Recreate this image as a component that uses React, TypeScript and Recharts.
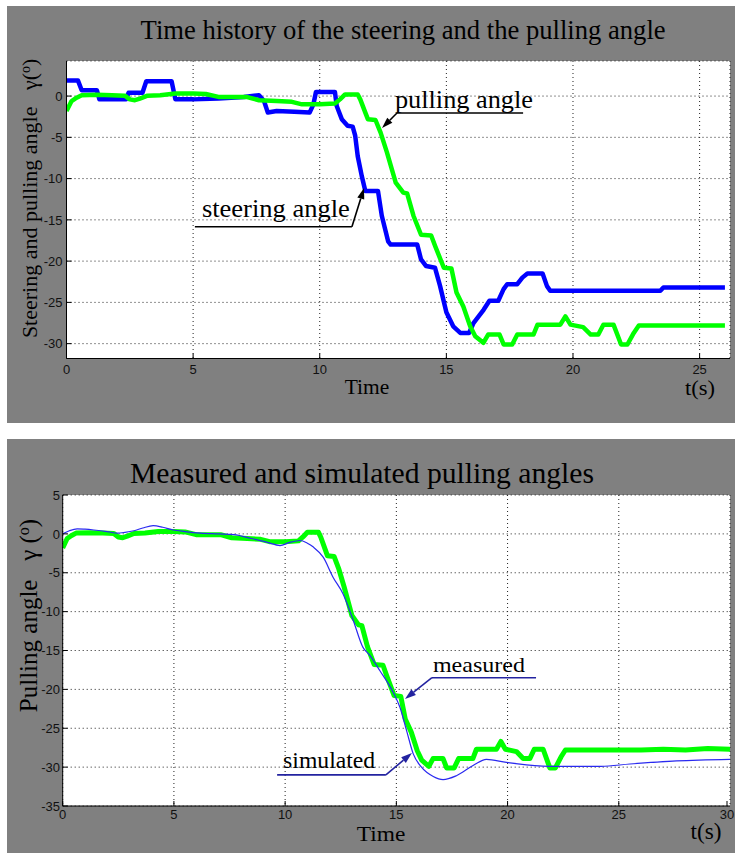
import React from 'react';
import { LineChart, Line, XAxis, YAxis, CartesianGrid, ReferenceLine } from 'recharts';

type Pt = [number, number];

// time (s), angle (deg)
const steeringAngle: Pt[] = [
  [0, 1.9], [0.45, 1.9], [0.6, 0.7], [1.2, 0.7], [1.3, -0.4], [2.35, -0.4], [2.45, 0.4], [3.0, 0.4],
  [3.15, 1.8], [4.15, 1.8], [4.3, -0.4], [5.0, -0.4], [6.0, -0.3], [7.0, -0.1], [7.6, 0.1], [7.8, -0.6],
  [7.95, -2.0], [8.3, -1.8], [9.0, -1.9], [9.6, -2.0], [9.75, -1.0], [9.85, 0.5], [10.6, 0.5], [10.67, -1.2],
  [10.87, -2.8], [11.1, -3.6], [11.3, -3.7], [11.4, -4.8], [11.5, -7.3], [11.66, -9.7], [11.8, -11.5],
  [12.3, -11.5], [12.45, -14.5], [12.7, -17.6], [12.8, -18.0], [13.85, -18.0], [14.0, -19.8], [14.2, -20.6],
  [14.55, -20.8], [14.75, -23.0], [15.0, -26.2], [15.27, -27.9], [15.55, -28.7], [15.9, -28.7], [16.07, -27.5],
  [16.47, -25.9], [16.7, -24.8], [17.05, -24.8], [17.26, -23.4], [17.4, -22.8], [17.8, -22.8], [18.0, -22.0],
  [18.2, -21.5], [18.8, -21.5], [18.97, -23.0], [19.1, -23.6], [23.45, -23.6], [23.57, -23.2], [26.0, -23.2],
];

const pullingAngle: Pt[] = [
  [0, -1.8], [0.1, -1.2], [0.2, -0.6], [0.4, -0.2], [0.6, 0.1], [1.2, 0.15], [1.8, 0.1], [2.3, 0.05],
  [2.5, -0.4], [2.7, -0.5], [2.9, -0.3], [3.2, 0.05], [3.7, 0.1], [4.3, 0.3], [5.0, 0.3], [5.5, 0.25],
  [6.0, -0.1], [6.5, -0.1], [7.1, -0.1], [7.6, -0.5], [8.3, -0.6], [8.9, -0.7], [9.3, -1.0], [10.0, -1.0],
  [10.6, -0.9], [10.8, -0.4], [11.0, 0.2], [11.5, 0.2], [11.6, -0.4], [11.8, -2.0], [11.9, -2.8], [12.2, -2.9],
  [12.4, -4.4], [12.65, -6.8], [13.0, -10.5], [13.3, -11.7], [13.45, -11.8], [13.7, -14.5], [14.0, -16.8],
  [14.4, -16.9], [14.56, -18.2], [14.9, -20.8], [15.2, -20.9], [15.4, -23.8], [15.67, -25.5], [15.94, -27.9],
  [16.14, -29.1], [16.46, -29.9], [16.65, -28.9], [17.1, -28.9], [17.26, -30.1], [17.6, -30.1], [17.8, -28.9],
  [18.44, -28.9], [18.6, -27.7], [19.5, -27.7], [19.7, -26.7], [19.9, -27.7], [20.4, -28.0], [20.7, -28.9],
  [21.0, -28.9], [21.2, -27.7], [21.6, -27.7], [21.9, -30.1], [22.15, -30.1], [22.4, -28.7], [22.6, -27.8],
  [26.0, -27.8],
];

// lower plot runs to 30 s
const measuredTail: Pt[] = [[27.0, -27.7], [28.0, -27.8], [29.0, -27.6], [30.0, -27.7]];

const simulatedAngle: Pt[] = [
  [0, 0], [0.3, 0.4], [0.65, 0.65], [1.0, 0.6], [1.4, 0.5], [2.0, 0.3], [2.45, 0.1], [2.8, 0.2], [3.2, 0.4],
  [3.6, 0.75], [4.07, 1.05], [4.5, 0.85], [4.97, 0.5], [5.5, 0.3], [6.2, 0.1], [7.0, 0.0], [7.7, -0.1],
  [8.5, -0.6], [9.2, -1.1], [9.77, -1.5], [10.2, -1.1], [10.67, -0.85], [11.0, -1.2], [11.27, -1.7],
  [11.71, -3.0], [12.16, -5.6], [12.6, -7.7], [13.06, -11.1], [13.5, -14.6], [13.8, -15.6], [14.26, -17.6],
  [14.86, -20.4], [15.16, -22.3], [15.46, -25.3], [15.76, -28.3], [16.13, -30.0], [16.66, -31.2], [17.1, -31.6],
  [17.7, -31.1], [18.45, -29.8], [19.05, -29.0], [19.95, -29.4], [20.85, -29.7], [22.2, -29.9], [24.2, -29.9],
  [25.5, -29.6], [27.6, -29.2], [30.0, -29.0],
];

const topTimeTicks = [0, 5, 10, 15, 20, 25];
const bottomTimeTicks = [0, 5, 10, 15, 20, 25, 30];
const topAngleTicks = [-30, -25, -20, -15, -10, -5, 0];
const bottomAngleTicks = [-35, -30, -25, -20, -15, -10, -5, 0, 5];

const toRows = (pts: Pt[]) => pts.map(([t, v]) => ({ t, v }));

const SANS = '"Liberation Sans", Arial, sans-serif';
const SERIF = '"Liberation Serif", "Times New Roman", serif';
const GRAY = '#808080';
const BLUE = '#0000ff';
const GREEN = '#00ff00';
const NAVY = '#2323a0';

// callouts in data coordinates: underline segment, arrow segment, text offset from underline start
const topCallouts = [
  { text: 'pulling angle', under: [[13.05, -2.05], [18.03, -2.05]], arrow: [[13.05, -2.05], [12.46, -3.87]], dx: -2, dy: -5, size: 25, len: 138, color: '#000' },
  { text: 'steering angle', under: [[5.07, -15.83], [11.27, -15.83]], arrow: [[11.27, -15.83], [11.75, -11.14]], dx: 7, dy: -10, size: 26, len: 148, color: '#000' },
];
const bottomCallouts = [
  { text: 'measured', under: [[16.6, -18.5], [21.28, -18.5]], arrow: [[16.6, -18.5], [15.39, -21.24]], dx: 1, dy: -6, size: 22, len: 92, color: NAVY },
  { text: 'simulated', under: [[9.64, -31.0], [14.53, -31.0]], arrow: [[14.53, -31.0], [15.7, -28.19]], dx: 6, dy: -7, size: 23, len: 92, color: NAVY },
];

function BottomTick(props: any) {
  const { x, y, payload, gap } = props;
  return (
    <g>
      <line x1={x} x2={x} y1={y - gap} y2={y - gap - 5} stroke="#000" />
      <text x={x} y={y} dy="0.72em" textAnchor="middle" fontSize={13} fontFamily={SANS} fill="#111">
        {payload.value}
      </text>
    </g>
  );
}

function LeftTick(props: any) {
  const { x, y, payload, gap } = props;
  return (
    <g>
      <line x1={x + gap} x2={x + gap + 5} y1={y} y2={y} stroke="#000" />
      <text x={x} y={y} dy="0.36em" textAnchor="end" fontSize={13} fontFamily={SANS} fill="#111">
        {payload.value}
      </text>
    </g>
  );
}

const TopTick = (props: any) => <line x1={props.x} x2={props.x} y1={props.y} y2={props.y + 5} stroke="#000" />;
const RightTick = (props: any) => <line x1={props.x - 5} x2={props.x} y1={props.y} y2={props.y} stroke="#000" />;

const underlineShape = (c: any) => (p: any) => (
  <g>
    <line x1={p.x1} y1={p.y1} x2={p.x2} y2={p.y2} stroke={c.color} strokeWidth={1.6} />
    <text
      x={p.x1 + c.dx}
      y={p.y1 + c.dy}
      fontSize={c.size}
      fontFamily={SERIF}
      fill="#000"
      textLength={c.len}
      lengthAdjust="spacingAndGlyphs"
    >
      {c.text}
    </text>
  </g>
);

const arrowShape = (color: string) => (p: any) => {
  const dx = p.x2 - p.x1;
  const dy = p.y2 - p.y1;
  const d = Math.hypot(dx, dy) || 1;
  const ux = dx / d;
  const uy = dy / d;
  const L = 11;
  const w = 3.6;
  const bx = p.x2 - ux * L;
  const by = p.y2 - uy * L;
  return (
    <g>
      <line x1={p.x1} y1={p.y1} x2={bx} y2={by} stroke={color} strokeWidth={1.6} />
      <polygon
        points={`${p.x2},${p.y2} ${bx - uy * w},${by + ux * w} ${bx + uy * w},${by - ux * w}`}
        fill={color}
      />
    </g>
  );
};

function callouts(list: any[]) {
  return list.flatMap((c, i) => [
    <ReferenceLine
      key={`u${i}`}
      segment={[{ x: c.under[0][0], y: c.under[0][1] }, { x: c.under[1][0], y: c.under[1][1] }]}
      ifOverflow="visible"
      shape={underlineShape(c)}
    />,
    <ReferenceLine
      key={`a${i}`}
      segment={[{ x: c.arrow[0][0], y: c.arrow[0][1] }, { x: c.arrow[1][0], y: c.arrow[1][1] }]}
      ifOverflow="visible"
      shape={arrowShape(c.color)}
    />,
  ]);
}

export default function App() {
  const grid = { stroke: '#222', strokeDasharray: '1 3', fill: '#fff', fillOpacity: 1 };
  return (
    <div style={{ position: 'absolute', left: 0, top: 0, width: 735, height: 855, background: '#fff', overflow: 'hidden' }}>
      <div style={{ position: 'absolute', left: 7, top: 6, width: 728, height: 417, background: GRAY }}>
        <LineChart width={728} height={417} margin={{ top: 55, right: 5, left: 0, bottom: 0 }}>
          <CartesianGrid {...grid} />
          <XAxis
            type="number"
            dataKey="t"
            domain={[0, 26.2]}
            ticks={topTimeTicks}
            allowDataOverflow
            height={64.5}
            tickSize={0}
            tickMargin={6}
            tickLine={false}
            axisLine={{ stroke: '#000' }}
            tick={(p: any) => <BottomTick {...p} gap={6} />}
          />
          <XAxis xAxisId="top" orientation="top" type="number" domain={[0, 26.2]} ticks={topTimeTicks} allowDataOverflow height={0} tickSize={0} tickMargin={0} tickLine={false} axisLine={{ stroke: '#000' }} tick={TopTick} />
          <YAxis
            type="number"
            domain={[-31.8, 4.25]}
            ticks={topAngleTicks}
            allowDataOverflow
            width={59.5}
            tickSize={0}
            tickMargin={4}
            tickLine={false}
            axisLine={{ stroke: '#000' }}
            tick={(p: any) => <LeftTick {...p} gap={4} />}
          />
          <YAxis yAxisId="right" orientation="right" type="number" domain={[-31.8, 4.25]} ticks={topAngleTicks} allowDataOverflow width={0} tickSize={0} tickMargin={0} tickLine={false} axisLine={{ stroke: '#000' }} tick={RightTick} />
          <Line data={toRows(steeringAngle)} dataKey="v" type="linear" stroke={BLUE} strokeWidth={4.5} strokeLinejoin="round" dot={false} isAnimationActive={false} />
          <Line data={toRows(pullingAngle)} dataKey="v" type="linear" stroke={GREEN} strokeWidth={4.5} strokeLinejoin="round" dot={false} isAnimationActive={false} />
          {callouts(topCallouts)}
        </LineChart>
      </div>

      <div style={{ position: 'absolute', left: 7, top: 439, width: 728, height: 414, background: GRAY }}>
        <LineChart width={728} height={414} margin={{ top: 56, right: 5, left: 0, bottom: 0 }}>
          <CartesianGrid {...grid} />
          <XAxis
            type="number"
            dataKey="t"
            domain={[0, 30]}
            ticks={bottomTimeTicks}
            allowDataOverflow
            height={47}
            tickSize={0}
            tickMargin={4}
            tickLine={false}
            axisLine={{ stroke: '#000' }}
            tick={(p: any) => <BottomTick {...p} gap={4} />}
          />
          <XAxis xAxisId="top" orientation="top" type="number" domain={[0, 30]} ticks={bottomTimeTicks} allowDataOverflow height={0} tickSize={0} tickMargin={0} tickLine={false} axisLine={{ stroke: '#000' }} tick={TopTick} />
          <YAxis
            type="number"
            domain={[-35, 5]}
            ticks={bottomAngleTicks}
            allowDataOverflow
            width={55.7}
            tickSize={0}
            tickMargin={2.7}
            tickLine={false}
            axisLine={{ stroke: '#000' }}
            tick={(p: any) => <LeftTick {...p} gap={2.7} />}
          />
          <YAxis yAxisId="right" orientation="right" type="number" domain={[-35, 5]} ticks={bottomAngleTicks} allowDataOverflow width={0} tickSize={0} tickMargin={0} tickLine={false} axisLine={{ stroke: '#000' }} tick={RightTick} />
          <Line data={toRows([...pullingAngle, ...measuredTail])} dataKey="v" type="linear" stroke={GREEN} strokeWidth={5} strokeLinejoin="round" dot={false} isAnimationActive={false} />
          <Line data={toRows(simulatedAngle)} dataKey="v" type="monotone" stroke="#2a2af0" strokeWidth={1.2} dot={false} isAnimationActive={false} />
          {callouts(bottomCallouts)}
        </LineChart>
      </div>

      <svg width={735} height={855} style={{ position: 'absolute', left: 0, top: 0, pointerEvents: 'none' }}>
        <g fontFamily={SERIF} fill="#000">
          <text x={140.6} y={39.3} fontSize={28} textLength={525} lengthAdjust="spacingAndGlyphs">
            Time history of the steering and the pulling angle
          </text>
          <text x={130} y={483.3} fontSize={30} textLength={464} lengthAdjust="spacingAndGlyphs">
            Measured and simulated pulling angles
          </text>
          <text x={36.7} y={198.4} fontSize={22} textAnchor="middle" transform="rotate(-90 36.7 198.4)">
            {'Steering and pulling angle\u00a0\u00a0\u00a0γ('}
            <tspan fontSize={14} dy={-7}>o</tspan>
            <tspan dy={7}>)</tspan>
          </text>
          <text x={37} y={615.5} fontSize={25} textAnchor="middle" transform="rotate(-90 37 615.5)">
            {'Pulling angle\u00a0\u00a0\u00a0γ ('}
            <tspan fontSize={16} dy={-8}>o</tspan>
            <tspan dy={8}>)</tspan>
          </text>
          <text x={367} y={394} fontSize={20} textAnchor="middle" textLength={44.5} lengthAdjust="spacingAndGlyphs">Time</text>
          <text x={700} y={395} fontSize={21} textAnchor="middle" textLength={30} lengthAdjust="spacingAndGlyphs">t(s)</text>
          <text x={381} y={841} fontSize={22} textAnchor="middle" textLength={48.5} lengthAdjust="spacingAndGlyphs">Time</text>
          <text x={706} y={839} fontSize={23} textAnchor="middle" textLength={31} lengthAdjust="spacingAndGlyphs">t(s)</text>
        </g>
      </svg>
    </div>
  );
}
